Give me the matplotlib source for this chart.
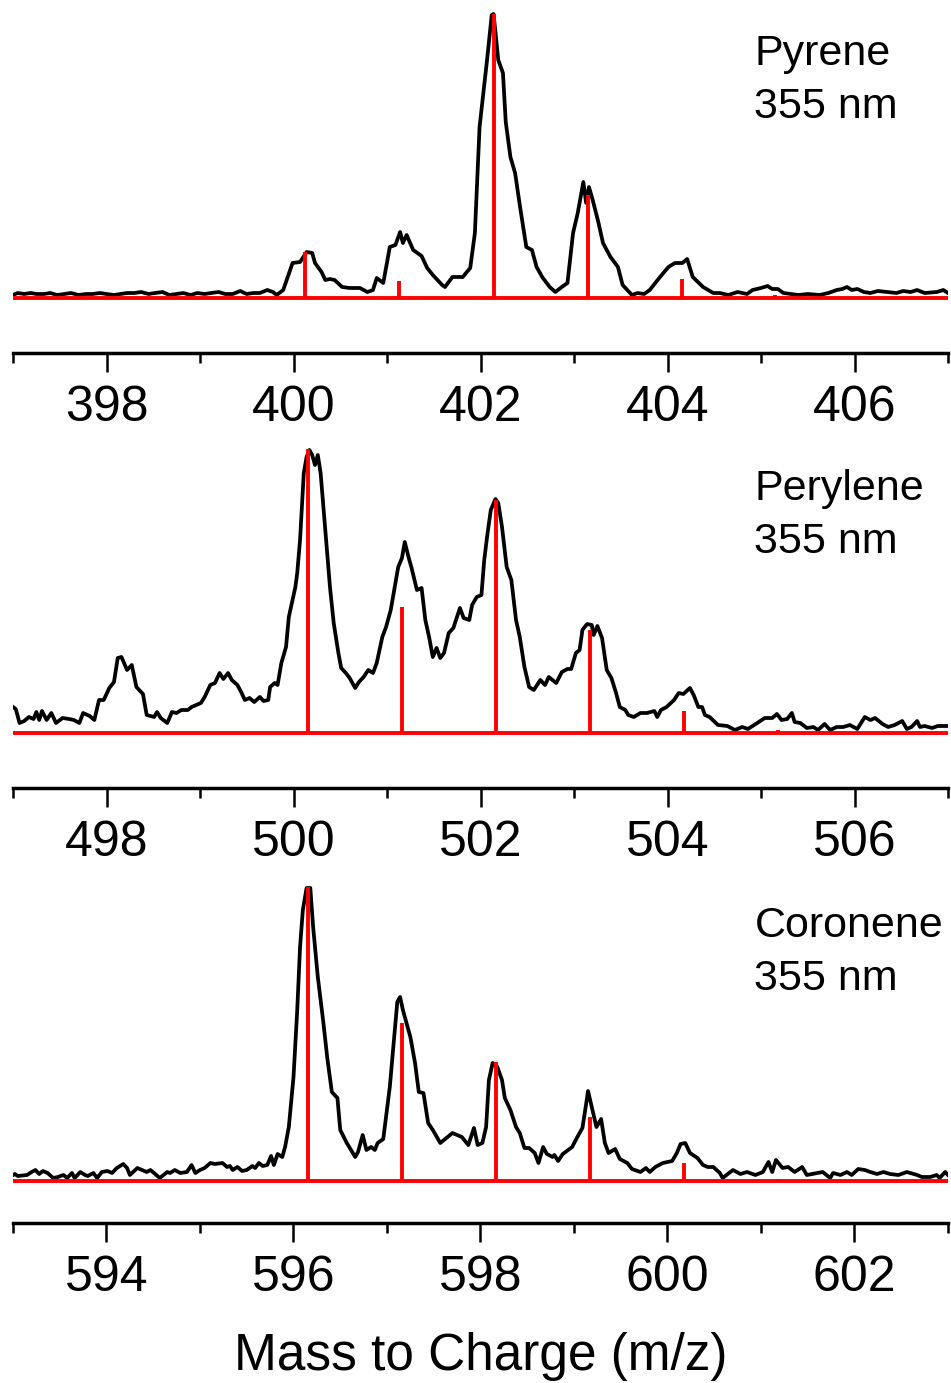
import matplotlib
matplotlib.use('Agg')
import matplotlib.pyplot as plt
from matplotlib.ticker import MultipleLocator

plt.rcParams.update({'font.family': ['Liberation Sans', 'DejaVu Sans']})

# Pyrene, 355 nm: measured trace and calculated isotope sticks
pyr_mz = [397.00, 397.05, 397.12, 397.19, 397.25, 397.33, 397.40, 397.47, 397.55, 397.62,
          397.70, 397.78, 397.85, 397.93, 398.00, 398.08, 398.15, 398.22, 398.30, 398.37,
          398.45, 398.52, 398.60, 398.67, 398.75, 398.82, 398.90, 398.97, 399.05, 399.12,
          399.20, 399.27, 399.35, 399.43, 399.50, 399.57, 399.64, 399.72, 399.78, 399.82,
          399.89, 399.99, 400.07, 400.14, 400.20, 400.23, 400.30, 400.34, 400.39, 400.44,
          400.52, 400.60, 400.71, 400.79, 400.85, 400.89, 400.96, 401.03, 401.09, 401.14,
          401.17, 401.21, 401.28, 401.37, 401.43, 401.49, 401.59, 401.62, 401.70, 401.81,
          401.89, 401.94, 401.99, 402.07, 402.12, 402.14, 402.19, 402.24, 402.27, 402.32,
          402.37, 402.42, 402.49, 402.55, 402.60, 402.66, 402.74, 402.80, 402.87, 402.93,
          402.99, 403.04, 403.10, 403.13, 403.16, 403.20, 403.26, 403.31, 403.39, 403.47,
          403.52, 403.62, 403.68, 403.75, 403.81, 403.92, 404.01, 404.08, 404.16, 404.21,
          404.27, 404.38, 404.49, 404.56, 404.65, 404.75, 404.85, 404.91, 405.00, 405.07,
          405.12, 405.18, 405.24, 405.32, 405.40, 405.50, 405.63, 405.72, 405.81, 405.87,
          405.92, 405.97, 406.03, 406.10, 406.17, 406.25, 406.35, 406.45, 406.52, 406.60,
          406.67, 406.75, 406.88, 406.95, 407.00]
pyr_int = [3, 5, 4, 5, 4, 4, 5, 3, 4, 5,
           3, 4, 4, 5, 4, 3, 4, 5, 5, 6,
           4, 5, 6, 3, 4, 5, 3, 5, 4, 5,
           6, 4, 4, 7, 4, 5, 5, 8, 6, 3,
           8, 35, 36, 46, 45, 35, 26, 18, 19, 18,
           11, 10, 10, 6, 8, 20, 15, 51, 53, 66,
           55, 63, 48, 42, 30, 23, 13, 11, 21, 21,
           30, 65, 171, 238, 283, 284, 238, 225, 176, 141,
           125, 93, 51, 48, 31, 21, 11, 6, 11, 15,
           65, 85, 116, 95, 111, 98, 76, 55, 41, 31,
           13, 3, 5, 4, 8, 21, 31, 35, 35, 39,
           21, 11, 5, 5, 3, 6, 4, 8, 10, 12,
           9, 9, 5, 4, 3, 4, 3, 5, 8, 9,
           11, 8, 9, 6, 5, 7, 6, 5, 7, 6,
           8, 5, 6, 8, 5]
pyr_stick_mz = [400.12, 401.13, 402.14, 403.15, 404.15, 405.15]
pyr_stick_int = [46, 17, 284, 103, 19, 3]

# Perylene, 355 nm
per_mz = [497.00, 497.03, 497.07, 497.12, 497.17, 497.22, 497.25, 497.28, 497.31, 497.36,
          497.41, 497.46, 497.53, 497.60, 497.65, 497.71, 497.75, 497.82, 497.87, 497.92,
          497.97, 498.03, 498.08, 498.12, 498.16, 498.22, 498.27, 498.32, 498.37, 498.39,
          498.43, 498.51, 498.54, 498.58, 498.65, 498.70, 498.75, 498.80, 498.87, 498.91,
          498.96, 499.01, 499.05, 499.11, 499.16, 499.21, 499.25, 499.30, 499.34, 499.40,
          499.44, 499.48, 499.53, 499.58, 499.64, 499.68, 499.73, 499.75, 499.80, 499.83,
          499.87, 499.92, 499.95, 500.02, 500.04, 500.07, 500.11, 500.14, 500.17, 500.20,
          500.23, 500.26, 500.29, 500.34, 500.39, 500.43, 500.48, 500.51, 500.56, 500.60,
          500.66, 500.70, 500.75, 500.80, 500.85, 500.89, 500.95, 500.99, 501.04, 501.09,
          501.12, 501.16, 501.19, 501.23, 501.26, 501.32, 501.37, 501.41, 501.45, 501.49,
          501.53, 501.57, 501.61, 501.66, 501.71, 501.78, 501.82, 501.88, 501.91, 501.96,
          502.01, 502.04, 502.07, 502.11, 502.16, 502.19, 502.23, 502.28, 502.33, 502.38,
          502.42, 502.47, 502.52, 502.57, 502.64, 502.69, 502.73, 502.81, 502.87, 502.93,
          502.97, 503.02, 503.06, 503.09, 503.14, 503.19, 503.21, 503.25, 503.30, 503.35,
          503.40, 503.45, 503.49, 503.55, 503.58, 503.64, 503.71, 503.78, 503.86, 503.89,
          503.93, 503.99, 504.07, 504.12, 504.17, 504.24, 504.28, 504.33, 504.37, 504.40,
          504.45, 504.54, 504.64, 504.72, 504.80, 504.86, 504.96, 505.04, 505.12, 505.17,
          505.22, 505.28, 505.33, 505.36, 505.42, 505.49, 505.56, 505.61, 505.68, 505.74,
          505.81, 505.88, 505.95, 506.03, 506.11, 506.17, 506.22, 506.30, 506.36, 506.43,
          506.51, 506.56, 506.61, 506.67, 506.70, 506.75, 506.83, 506.89, 507.00]
per_int = [26, 24, 10, 12, 16, 14, 21, 13, 22, 13,
           20, 10, 15, 14, 13, 10, 20, 17, 13, 33,
           33, 45, 51, 75, 76, 63, 68, 46, 41, 39,
           18, 16, 21, 15, 10, 21, 20, 23, 23, 26,
           28, 30, 36, 48, 50, 60, 54, 60, 53, 48,
           41, 33, 35, 31, 36, 32, 33, 46, 50, 48,
           70, 86, 116, 146, 160, 193, 260, 276, 283, 278,
           268, 278, 260, 203, 146, 110, 80, 65, 60, 55,
           45, 51, 56, 63, 60, 70, 96, 106, 123, 150,
           166, 175, 191, 176, 166, 143, 145, 113, 96, 76,
           85, 75, 80, 100, 105, 125, 115, 113, 128, 136,
           138, 173, 196, 223, 234, 230, 206, 166, 153, 113,
           96, 66, 46, 43, 53, 48, 56, 50, 61, 64,
           64, 80, 83, 103, 109, 108, 98, 107, 95, 63,
           55, 40, 26, 23, 18, 16, 20, 20, 22, 16,
           23, 26, 33, 40, 39, 45, 38, 26, 26, 18,
           16, 8, 7, 3, 6, 4, 10, 15, 15, 19,
           13, 14, 20, 11, 10, 5, 6, 3, 9, 3,
           6, 6, 8, 4, 16, 13, 15, 9, 6, 8,
           12, 4, 6, 12, 6, 7, 5, 7, 7]
per_stick_mz = [500.16, 501.16, 502.17, 503.17, 504.18, 505.18]
per_stick_int = [284, 126, 233, 103, 22, 3]

# Coronene, 355 nm
cor_mz = [593.00, 593.02, 593.05, 593.15, 593.20, 593.24, 593.28, 593.32, 593.37, 593.43,
          593.48, 593.54, 593.58, 593.63, 593.66, 593.72, 593.77, 593.80, 593.86, 593.90,
          593.95, 594.01, 594.06, 594.11, 594.18, 594.22, 594.25, 594.33, 594.38, 594.43,
          594.47, 594.52, 594.57, 594.65, 594.68, 594.73, 594.79, 594.86, 594.91, 594.95,
          595.00, 595.05, 595.11, 595.16, 595.24, 595.29, 595.32, 595.35, 595.40, 595.45,
          595.50, 595.56, 595.59, 595.63, 595.67, 595.72, 595.76, 595.79, 595.83, 595.88,
          595.91, 595.95, 596.00, 596.04, 596.07, 596.10, 596.14, 596.18, 596.21, 596.26,
          596.32, 596.36, 596.41, 596.47, 596.50, 596.57, 596.66, 596.69, 596.74, 596.78,
          596.83, 596.87, 596.90, 596.96, 597.03, 597.11, 597.14, 597.17, 597.25, 597.30,
          597.34, 597.39, 597.44, 597.49, 597.57, 597.70, 597.80, 597.87, 597.93, 597.97,
          598.02, 598.06, 598.09, 598.13, 598.18, 598.23, 598.26, 598.32, 598.38, 598.42,
          598.47, 598.52, 598.58, 598.62, 598.67, 598.71, 598.77, 598.79, 598.83, 598.88,
          598.98, 599.03, 599.09, 599.12, 599.15, 599.19, 599.24, 599.29, 599.33, 599.37,
          599.44, 599.49, 599.57, 599.62, 599.71, 599.77, 599.81, 599.87, 599.95, 600.05,
          600.10, 600.14, 600.19, 600.24, 600.32, 600.38, 600.43, 600.49, 600.56, 600.59,
          600.70, 600.78, 600.85, 600.94, 601.02, 601.08, 601.12, 601.16, 601.23, 601.29,
          601.36, 601.44, 601.49, 601.60, 601.66, 601.74, 601.77, 601.85, 601.92, 601.97,
          602.04, 602.11, 602.17, 602.24, 602.31, 602.38, 602.47, 602.56, 602.67, 602.72,
          602.81, 602.88, 602.91, 602.97, 603.00]
cor_int = [6, 7, 5, 6, 9, 11, 7, 10, 8, 3,
           4, 6, 3, 8, 3, 9, 6, 5, 8, 3,
           9, 10, 8, 13, 17, 13, 6, 13, 11, 9,
           11, 7, 3, 9, 8, 11, 8, 9, 16, 8,
           11, 13, 18, 17, 18, 14, 15, 11, 14, 10,
           11, 15, 13, 18, 15, 16, 25, 16, 27, 24,
           34, 54, 104, 171, 234, 271, 293, 293, 254, 204,
           158, 124, 89, 83, 51, 38, 24, 29, 46, 31,
           34, 31, 38, 42, 94, 179, 184, 171, 144, 118,
           89, 88, 58, 51, 38, 48, 44, 36, 53, 36,
           38, 54, 101, 118, 114, 101, 83, 71, 54, 48,
           33, 33, 28, 18, 34, 27, 24, 26, 20, 27,
           34, 43, 53, 71, 90, 74, 54, 62, 38, 28,
           32, 22, 18, 12, 9, 13, 9, 14, 18, 20,
           28, 37, 38, 28, 23, 16, 14, 14, 8, 3,
           11, 7, 9, 6, 9, 19, 9, 21, 13, 14,
           9, 14, 6, 8, 9, 3, 8, 6, 9, 6,
           12, 11, 9, 7, 9, 7, 6, 9, 6, 4,
           4, 6, 3, 9, 6]
cor_stick_mz = [596.15, 597.16, 598.17, 599.17, 600.18, 601.18]
cor_stick_int = [294, 158, 119, 64, 18, 2]

names = ['Pyrene', 'Perylene', 'Coronene']
wavelength = '355 nm'
x_ranges = [(397, 407), (497, 507), (593, 603)]

W, H = 951, 1383
fig = plt.figure(figsize=(W / 100, H / 100), dpi=100)

# pixel rows of each panel: top, bottom, upper ylim, spine drop (px)
rows = [(8, 300, 290, 53), (443, 735, 290, 53), (880, 1183, 301, 40)]
traces = [(pyr_mz, pyr_int, pyr_stick_mz, pyr_stick_int),
          (per_mz, per_int, per_stick_mz, per_stick_int),
          (cor_mz, cor_int, cor_stick_mz, cor_stick_int)]

for i, ((top, bot, ytop, drop), (mz, inten, smz, sint)) in enumerate(zip(rows, traces)):
    ax = fig.add_axes([13 / W, 1 - bot / H, 935 / W, (bot - top) / H])
    x0, x1 = x_ranges[i]
    ax.plot(mz, inten, color='black', lw=2.7, zorder=2, solid_joinstyle='round')
    ax.hlines(0, x0, x1, color='#ff0000', lw=2.8, zorder=3)
    ax.vlines(smz, 0, sint, color='#ff0000', lw=2.8, zorder=3)
    ax.set_xlim(x0, x1)
    ax.set_ylim(-2, ytop)

    for s in ['left', 'right', 'top']:
        ax.spines[s].set_visible(False)
    ax.spines['bottom'].set_position(('outward', drop * 0.72))
    ax.spines['bottom'].set_linewidth(2.5)
    ax.set_yticks([])
    ax.xaxis.set_major_locator(MultipleLocator(2))
    ax.xaxis.set_minor_locator(MultipleLocator(1))
    ax.tick_params(axis='x', which='major', direction='out', length=13.7, width=1.8,
                   pad=9, labelsize=36)
    ax.tick_params(axis='x', which='minor', direction='out', length=7.2, width=1.8)

    ax.text(x0 + 7.93, ytop - 57, names[i], fontsize=31, ha='left', va='baseline')
    ax.text(x0 + 7.93, ytop - 110, wavelength, fontsize=31, ha='left', va='baseline')

    if i == 2:
        ax.set_xlabel('Mass to Charge (m/z)', fontsize=37, labelpad=23)

fig.savefig('out.png', dpi=100)
